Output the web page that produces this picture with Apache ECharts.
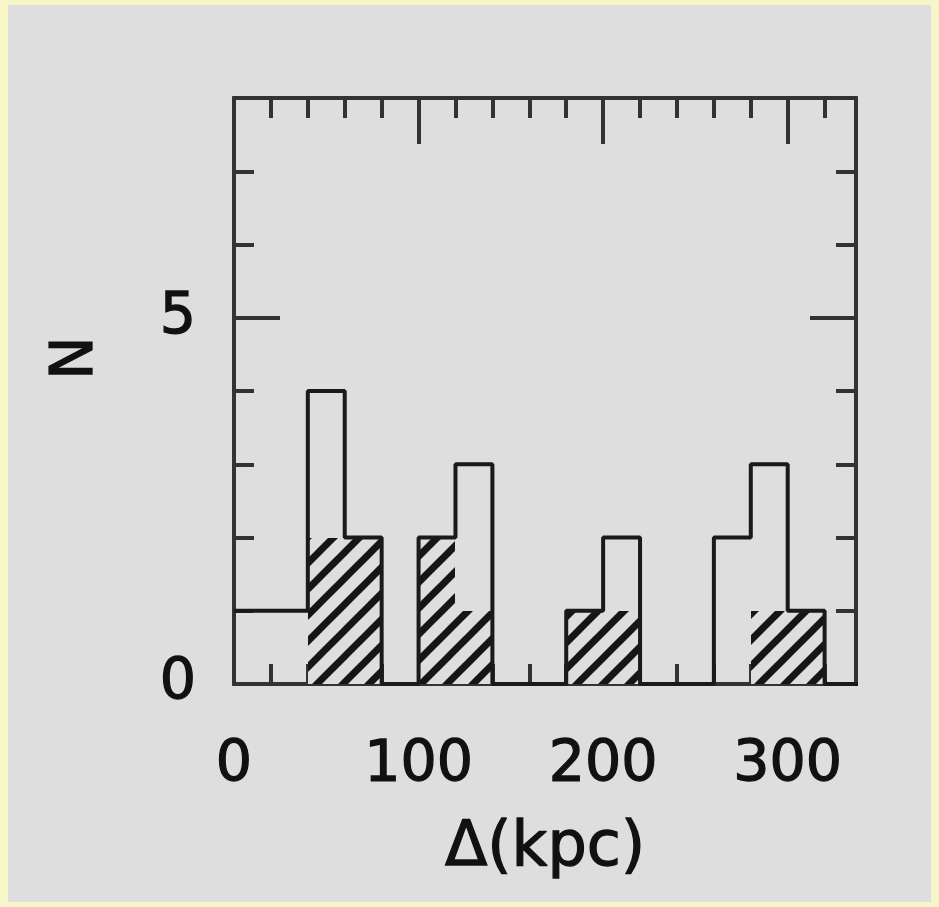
<!DOCTYPE html>
<html><head><meta charset="utf-8">
<script src="https://cdn.jsdelivr.net/npm/echarts@6/dist/echarts.min.js"></script>
<style>
html,body{margin:0;padding:0;background:#f6f6c8;width:939px;height:907px;overflow:hidden;}
#c{position:absolute;left:8px;top:5px;width:923px;height:897px;background:#dedede;}
</style></head><body><div id="c"></div>
<script>
// ---- data ----
const binStarts     = [0, 20, 40, 60, 80, 100, 120, 140, 160, 180, 200, 220, 240, 260, 280, 300, 320];
const binWidth      = 20;
const totalCounts   = [1, 1, 4, 2, 0, 2, 3, 0, 0, 1, 2, 0, 0, 2, 3, 1, 0];
const hatchedCounts = [0, 0, 2, 2, 0, 2, 1, 0, 0, 1, 1, 0, 0, 0, 1, 1, 0];
const xTickLabels   = ['0', '100', '200', '300'];
const yTickLabels   = ['0', '5'];
const xName = 'Δ(kpc)';
const yName = 'N';

// ---- hatch pattern ----
const P = 26;
const pc = document.createElement('canvas');
pc.width = P; pc.height = P;
const g = pc.getContext('2d');
g.fillStyle = '#dedede'; g.fillRect(0, 0, P, P);
g.strokeStyle = '#161616'; g.lineWidth = 7;
for (const o of [-P, 0, P]) {
  g.beginPath(); g.moveTo(o - 6, P + 6); g.lineTo(o + P + 6, -6); g.stroke();
}
const hatch = { image: pc, repeat: 'repeat' };

const stepData = binStarts.map((s, i) => [s, totalCounts[i]]);
stepData.push([binStarts[binStarts.length - 1] + binWidth, totalCounts[totalCounts.length - 1]]);
const hatchData = binStarts.map((s, i) => [s, s + binWidth, hatchedCounts[i]]);

const FONT = 'DejaVu Sans';
const TXT = '#111';
const AX = '#333';
const XMIN = 0, XMAX = 337, YMIN = 0, YMAX = 8;
const textStyleBase = { fontFamily: FONT, color: TXT, textBorderColor: TXT, textBorderWidth: 1.3 };

function xa(pos, interval, len, opts) {
  return Object.assign({
    type: 'value', position: pos, min: XMIN, max: XMAX, interval: interval,
    axisLine: { show: true, onZero: false, lineStyle: { color: AX, width: 4 } },
    axisTick: { show: true, inside: true, length: len, lineStyle: { color: AX, width: 4 } },
    axisLabel: { show: false },
    splitLine: { show: false }
  }, opts || {});
}
function ya(pos, interval, len, opts) {
  return Object.assign({
    type: 'value', position: pos, min: YMIN, max: YMAX, interval: interval,
    axisLine: { show: true, onZero: false, lineStyle: { color: AX, width: 4 } },
    axisTick: { show: true, inside: true, length: len, lineStyle: { color: AX, width: 4 } },
    axisLabel: { show: false },
    splitLine: { show: false }
  }, opts || {});
}

const chart = echarts.init(document.getElementById('c'));
chart.setOption({
  backgroundColor: '#dedede',
  animation: false,
  grid: { left: 226, top: 93, width: 622, height: 586, containLabel: false },
  xAxis: [
    xa('bottom', 100, 46, {
      axisLabel: Object.assign({
        show: true, margin: 54, fontSize: 57,
        showMaxLabel: false,
        formatter: v => (xTickLabels.indexOf(String(v)) >= 0 ? String(v) : '')
      }, textStyleBase),
      name: xName, nameLocation: 'middle', nameGap: 134,
      nameTextStyle: Object.assign({ fontSize: 62 }, textStyleBase)
    }),
    xa('bottom', 20, 20),
    xa('top', 100, 46),
    xa('top', 20, 20)
  ],
  yAxis: [
    ya('left', 5, 46, {
      axisLabel: Object.assign({
        show: true, margin: 38, fontSize: 57,
        showMaxLabel: false,
        formatter: v => (yTickLabels.indexOf(String(v)) >= 0 ? String(v) : '')
      }, textStyleBase),
      name: yName, nameLocation: 'middle', nameGap: 128,
      nameTextStyle: Object.assign({ fontSize: 58, padding: [0, 0, 0, 66] }, textStyleBase)
    }),
    ya('left', 1, 20),
    ya('right', 5, 46),
    ya('right', 1, 20)
  ],
  series: [
    {
      type: 'custom', xAxisIndex: 0, yAxisIndex: 0, z: 3,
      encode: { x: [0, 1], y: 2 },
      data: hatchData,
      renderItem: function (params, api) {
        const s = api.value(0), e = api.value(1), n = api.value(2);
        if (!(n > 0)) return null;
        const p0 = api.coord([s, n]);
        const p1 = api.coord([e, 0]);
        const x0 = Math.round(p0[0]), x1 = Math.round(p1[0]);
        const y0 = Math.round(p0[1]), y1 = Math.round(p1[1]);
        return {
          type: 'rect',
          shape: { x: x0, y: y0, width: x1 - x0, height: y1 - y0 },
          style: { fill: hatch }
        };
      }
    },
    {
      type: 'line', xAxisIndex: 0, yAxisIndex: 0, z: 4,
      step: 'end', symbol: 'none', clip: true,
      data: stepData,
      lineStyle: { color: '#1a1a1a', width: 4 }
    }
  ]
});
</script></body></html>
